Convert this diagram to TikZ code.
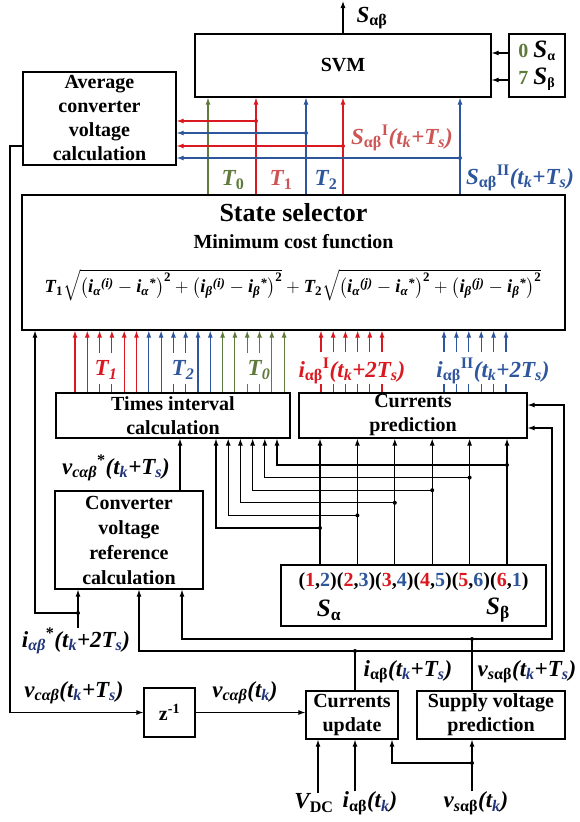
\RequirePackage{fix-cm}
\documentclass[tikz,border=0pt]{standalone}
\usepackage{amsmath}
\usepackage{fontspec}
\setmainfont{Liberation Serif}
\usepackage{tikz}
\usetikzlibrary{positioning, arrows.meta, calc}
\definecolor{sred}{RGB}{218,24,32}
\definecolor{lred}{RGB}{205,85,85}
\definecolor{sblue}{RGB}{46,86,156}
\definecolor{sgreen}{RGB}{95,122,58}
\definecolor{dsub}{RGB}{32,52,122}
\newcommand{\up}[1]{\textsubscript{\upshape #1}}
\newcommand{\tk}[1][.]{t\textsubscript{\color{#1}k}}
\newcommand{\Ts}[1][.]{T\textsubscript{\color{#1}s}}
\newcommand{\bi}[1]{\text{\bfseries\itshape #1}}
\newcommand{\sqterm}[1]{\sqrt{\bigl(\bi{i}_{\bi{α}}{}^{\bi{(#1)}}-\bi{i}_{\bi{α}}{}^{\bi{*}}\bigr)^{\text{\bfseries 2}}+\bigl(\bi{i}_{\bi{β}}{}^{\bi{(#1)}}-\bi{i}_{\bi{β}}{}^{\bi{*}}\bigr)^{\text{\bfseries 2}}}}
\newcommand{\costfn}{$\bi{T}_{\text{\bfseries 1}}\sqterm{i}+\bi{T}_{\text{\bfseries 2}}\sqterm{j}$}

\begin{document}
\begin{tikzpicture}[x=1pt, y=-1pt,
    block/.style={rectangle, draw, line width=1.2pt, inner sep=0pt, align=center, font=\fontsize{20}{24}\selectfont\bfseries},
    arr/.style={-{Latex[length=7pt,width=5pt]}, line width=1.1pt},
    wire/.style={line width=1.1pt},
    lbl/.style={font=\fontsize{23}{26}\selectfont\bfseries\itshape, inner sep=0pt},
]
\useasboundingbox (0,0) rectangle (580,822);

\node[block, minimum width=296, minimum height=63] (svm) at (343,65.5) {SVM};
\node[block, minimum width=56, minimum height=63, align=left, font=\fontsize{20}{27}\selectfont\bfseries] (sw) at (537,65.5) {\textcolor{sgreen}{0} \textit{\fontsize{25}{27}\selectfont S}\up{α}\\\textcolor{sgreen}{7} \textit{\fontsize{25}{27}\selectfont S}\up{β}};
\node[block, minimum width=153, minimum height=93] (avg) at (99.5,118.5) {Average\\converter\\voltage\\calculation};
\node[block, minimum width=543, minimum height=135] (ss) at (293.5,262.5) {};
\node[font=\fontsize{26}{30}\selectfont\bfseries] (sstitle) at (293.5,213) {State selector};
\node[font=\fontsize{20}{24}\selectfont\bfseries] (sssub) at (293.5,242) {Minimum cost function};
\node[font=\fontsize{18.5}{22}\selectfont] (cost) at (293,285) {\costfn};
\node[block, minimum width=234, minimum height=45] (tic) at (173,415.5) {Times interval\\calculation};
\node[block, minimum width=228, minimum height=45] (cp) at (413,415.5) {Currents\\prediction};
\node[block, minimum width=148, minimum height=98, font=\fontsize{20}{25}\selectfont\bfseries] (cvr) at (129,540) {Converter\\voltage\\reference\\calculation};
\node[block, minimum width=265, minimum height=61] (sbox) at (413.5,595.5) {};
\node[font=\fontsize{20}{24}\selectfont\bfseries] (pairs) at (413.5,582) {(\textcolor{sred}{1},\textcolor{sblue}{2})(\textcolor{sred}{2},\textcolor{sblue}{3})(\textcolor{sred}{3},\textcolor{sblue}{4})(\textcolor{sred}{4},\textcolor{sblue}{5})(\textcolor{sred}{5},\textcolor{sblue}{6})(\textcolor{sred}{6},\textcolor{sblue}{1})};
\node[lbl, font=\fontsize{25}{27}\selectfont\bfseries\itshape] (lsa) at (329,610) {S\up{α}};
\node[lbl, font=\fontsize{25}{27}\selectfont\bfseries\itshape] (lsb) at (498,610) {S\up{β}};
\node[block, minimum width=51, minimum height=49] (z) at (169.5,712.5) {z\textsuperscript{-1}};
\node[block, minimum width=92, minimum height=48] (cu) at (352,715) {Currents\\update};
\node[block, minimum width=148, minimum height=48] (svp) at (491,715) {Supply voltage\\prediction};

% SVM side
\coordinate (sout) at (343,1);
\draw[arr] (svm.north) -- (sout);
\node[lbl] (lsab) at (372,18) {S\up{αβ}};
\draw[arr] (sw.west |- 0,53) -- (svm.east |- 0,53);
\draw[arr] (sw.west |- 0,80) -- (svm.east |- 0,80);
\foreach \x/\c in {208/sgreen, 256/sred, 306/sblue, 343/sred, 460/sblue}
    \draw[arr, \c] (\x,0 |- ss.north) -- (\x,0 |- svm.south);
\foreach \x/\y/\c in {256/121/sred, 306/133/sblue, 343/146/sred, 460/158/sblue}{
    \draw[arr, \c] (\x,\y) -- (avg.east |- 0,\y);
    \fill[\c] (\x,\y) circle (2);
}
\node[lbl, sgreen] (lT0) at (233,180) {T\up{0}};
\node[lbl, lred] (lT1) at (281,180) {T\up{1}};
\node[lbl, sblue] (lT2) at (326,180) {T\up{2}};
\node[lbl, lred] (lsI) at (402,138) {S\up{αβ}\textsuperscript{\upshape I}(\tk+\Ts)};
\node[lbl, sblue] (lsII) at (520,178) {S\up{αβ}\textsuperscript{\upshape II}(\tk+\Ts)};

% inputs of the state selector
\foreach \c [count=\g from 0] in {sred, sblue, sgreen}{
    \foreach \k in {0,1,4,5}{
        \pgfmathsetmacro\xx{75+12.3*(6*\g+\k)}
        \draw[arr, \c] (\xx,0 |- tic.north) -- (\xx,0 |- ss.south);
    }
    \foreach \k in {2,3}{
        \pgfmathsetmacro\xx{75+12.3*(6*\g+\k)}
        \draw[arr, \c] (\xx,353) -- (\xx,0 |- ss.south);
        \draw[wire, \c] (\xx,0 |- tic.north) -- ++(0,-8);
    }
}
\foreach \xa/\dx/\c in {321/12.2/sred, 444/12.4/sblue}
    \foreach \k in {0,...,5}{
        \pgfmathsetmacro\xx{\xa+\dx*\k}
        \draw[arr, \c] (\xx,352) -- (\xx,0 |- ss.south);
        \draw[wire, \c] (\xx,0 |- cp.north) -- ++(0,-8);
    }
\node[lbl, sred] (lt1) at (106,370) {T\textsubscript{1}};
\node[lbl, sblue] (lt2) at (183,370) {T\textsubscript{2}};
\node[lbl, sgreen] (lt0) at (259,370) {T\textsubscript{0}};
\node[lbl, sred] (lia) at (352,371) {i\up{αβ}\textsuperscript{\upshape I}(\tk+2\Ts)};
\node[lbl, sblue] (lib) at (493,371) {i\up{αβ}\textsuperscript{\upshape II}(\tk+2\Ts)};

% reference voltage and switching pairs
\draw[arr] (cvr.north -| 180,0) -- (tic.south -| 180,0);
\node[lbl] (lvs) at (116,468) {v\textsubscript{cαβ}\textsuperscript{\upshape *}(\tk[dsub]+\Ts[dsub])};
\foreach \k in {0,...,5}{
    \pgfmathsetmacro\xs{320+37.4*\k}
    \pgfmathsetmacro\xt{216+12.2*\k}
    \pgfmathsetmacro\yy{528-12.6*\k}
    \draw[arr] (\xs,0 |- sbox.north) -- (\xs,0 |- cp.south);
    \draw[arr] (\xs,\yy) -| (\xt,0 |- tic.south);
    \fill (\xs,\yy) circle (2);
}

% current reference
\node[lbl] (lis) at (76,641) {i\textsubscript{\color{dsub}αβ}\textsuperscript{\upshape *}(\tk[dsub]+2\Ts[dsub])};
\draw[arr] (78,0 |- lis.north) -- (78,0 |- cvr.south);
\draw[arr] (78,613) -- (35,613) -- (35,0 |- ss.south);
\fill (78,613) circle (2);

% predicted current and supply voltage
\draw[wire] (355,0 |- cu.north) -- (355,651);
\draw[arr] (355,651) -- (139,651) -- (139,0 |- cvr.south);
\draw[arr] (355,651) -- (564,651) -- (564,405) -- (cp.east |- 0,405);
\fill (355,651) circle (2);
\draw[wire] (472,0 |- svp.north) -- (472,639);
\draw[arr] (472,639) -- (182,639) -- (182,0 |- cvr.south);
\draw[arr] (472,639) -- (552,639) -- (552,428) -- (cp.east |- 0,428);
\fill (472,639) circle (2);
\node[lbl] (lic) at (408,672) {i\up{αβ}(\tk[dsub]+\Ts[dsub])};
\node[lbl] (lvc) at (527,672) {v\textsubscript{s\upshape αβ}(\tk[dsub]+\Ts[dsub])};

% delay loop
\draw[arr] (avg.west |- 0,146) -- (10,146) -- (10,0 |- z.west) -- (z.west);
\node[lbl] (lvc1) at (74,693) {v\textsubscript{cαβ}(\tk[dsub]+\Ts[dsub])};
\draw[arr] (z.east) -- (z.east -| cu.west);
\node[lbl] (lvc0) at (245,693) {v\textsubscript{cαβ}(\tk[dsub])};

% measurements
\node[lbl] (lvdc) at (314,803) {V\up{DC}};
\node[lbl] (lik) at (370,803) {i\up{αβ}(\tk[dsub])};
\node[lbl] (lvsk) at (476,803) {v\textsubscript{s\upshape αβ}(\tk[dsub])};
\draw[arr] (318,0 |- lvdc.north) -- (318,0 |- cu.south);
\draw[arr] (355,0 |- lik.north) -- (355,0 |- cu.south);
\draw[arr] (472,0 |- lvsk.north) -- (472,0 |- svp.south);
\draw[arr] (472,763) -| (392,0 |- cu.south);
\fill (472,763) circle (2);
\end{tikzpicture}
\end{document}
